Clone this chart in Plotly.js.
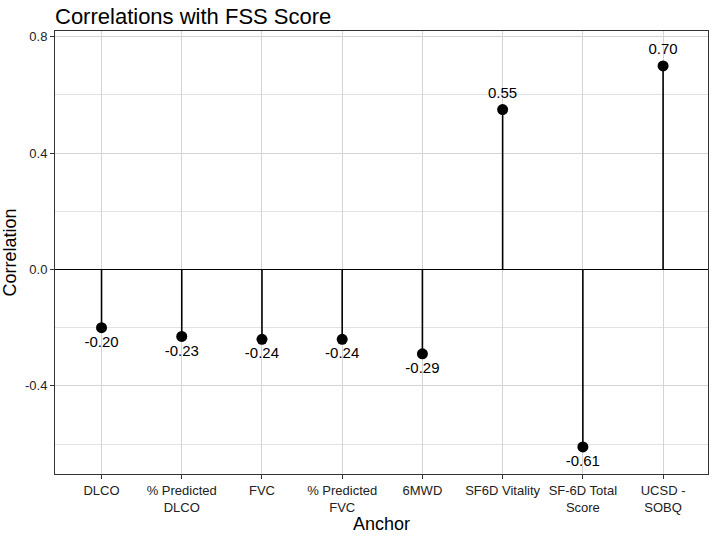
<!DOCTYPE html>
<html>
<head>
<script src="https://cdn.plot.ly/plotly-3.0.1.min.js"></script>
<style>body{margin:0;background:#fff}</style>
</head>
<body>
<div id="plot" style="width:714px;height:536px"></div>
<script>
// Anchor measures and their correlation with FSS score
var anchors = ['DLCO', '% Predicted<br>DLCO', 'FVC', '% Predicted<br>FVC', '6MWD',
    'SF6D Vitality', 'SF-6D Total<br>Score', 'UCSD -<br>SOBQ'];
var correlations = [-0.20, -0.23, -0.24, -0.24, -0.29, 0.55, -0.61, 0.70];

// stems from zero up/down to each point
var stemX = [], stemY = [];
anchors.forEach(function (a, i) {
  stemX.push(a, a, null);
  stemY.push(0, correlations[i], null);
});

var stems = {
  x: stemX, y: stemY,
  mode: 'lines', type: 'scatter',
  line: { color: '#000', width: 1.6 },
  hoverinfo: 'skip', showlegend: false
};

var points = {
  x: anchors, y: correlations,
  mode: 'markers+text', type: 'scatter',
  marker: { color: '#000', size: 11 },
  text: correlations.map(function (v) { return v.toFixed(2); }),
  textposition: correlations.map(function (v) { return v < 0 ? 'bottom center' : 'top center'; }),
  textfont: { family: 'Liberation Sans, Arial', size: 15, color: '#000' },
  showlegend: false
};

var layout = {
  width: 714, height: 536,
  margin: { l: 55, r: 6, t: 31, b: 62 },
  paper_bgcolor: '#fff', plot_bgcolor: '#fff',
  font: { family: 'Liberation Sans, Arial', color: '#000' },
  title: {
    text: 'Correlations with FSS Score',
    font: { size: 22, color: '#000' },
    x: 0, xref: 'paper', xanchor: 'left',
    y: 1, yref: 'paper', yanchor: 'bottom', pad: { b: 7 }
  },
  xaxis: {
    title: { text: 'Anchor', font: { size: 18 }, standoff: 2 },
    range: [-0.58, 7.56],
    tickfont: { size: 13, color: '#222' },
    ticks: 'outside', ticklen: 4, tickcolor: '#333',
    showgrid: true, gridcolor: '#d4d4d4', gridwidth: 1,
    showline: true, linecolor: '#333', linewidth: 1, mirror: true,
    zeroline: false
  },
  yaxis: {
    title: { text: 'Correlation', font: { size: 18 }, standoff: 6 },
    range: [-0.703, 0.82],
    tickvals: [-0.4, 0, 0.4, 0.8],
    ticktext: ['-0.4', '0.0', '0.4', '0.8'],
    tickfont: { size: 13, color: '#222' },
    ticks: 'outside', ticklen: 4, tickcolor: '#333',
    showgrid: true, gridcolor: '#d4d4d4', gridwidth: 1,
    minor: { tickvals: [-0.6, -0.2, 0.2, 0.6], showgrid: true, gridcolor: '#e2e2e2', gridwidth: 1, ticks: '' },
    showline: true, linecolor: '#333', linewidth: 1, mirror: true,
    zeroline: true, zerolinecolor: '#000', zerolinewidth: 1.6
  }
};

Plotly.newPlot('plot', [stems, points], layout, { displayModeBar: false, staticPlot: true });
</script>
</body>
</html>
